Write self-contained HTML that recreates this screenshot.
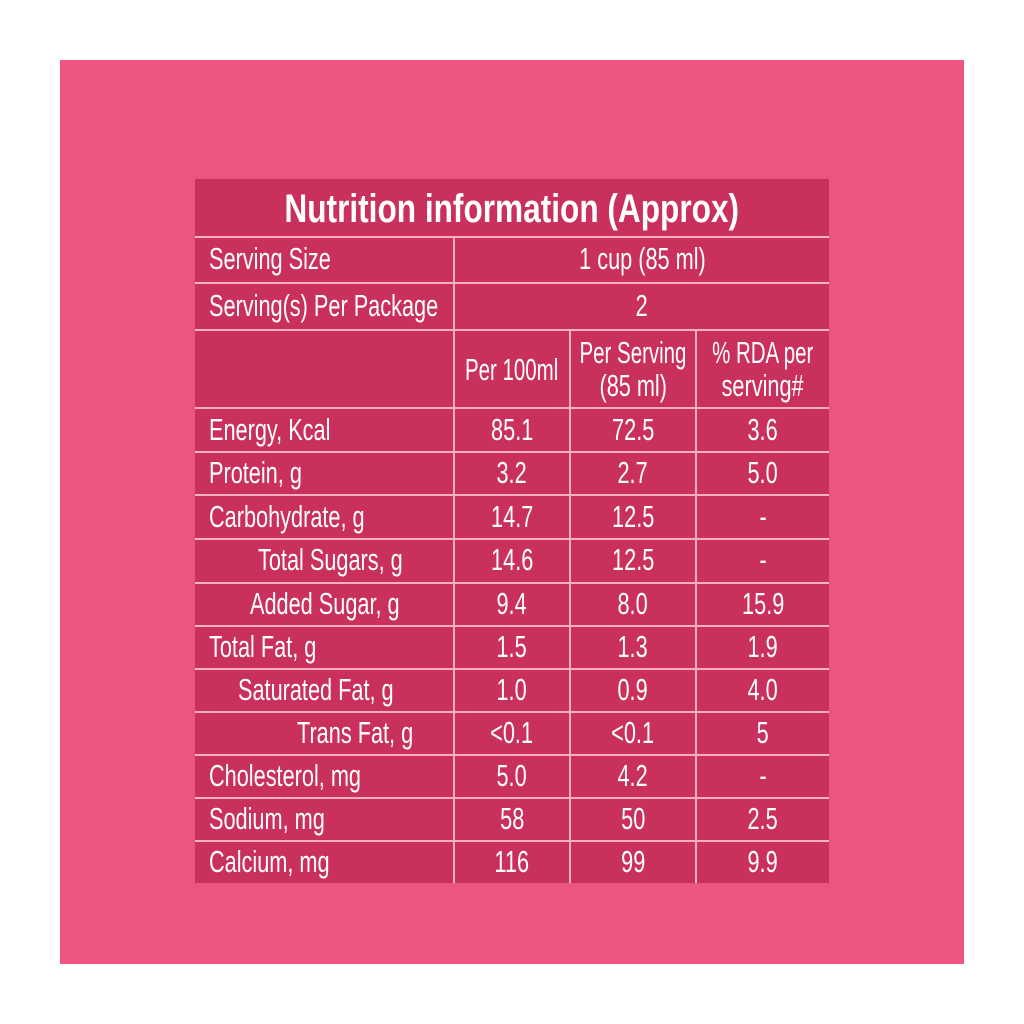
<!DOCTYPE html><html><head><style>
body{margin:0;width:1024px;height:1024px;background:#fff;position:relative;overflow:hidden;font-family:"Liberation Sans",sans-serif;}
#bg{position:absolute;left:60px;top:60px;width:904px;height:904px;background:#ee5480;}
#t{position:absolute;left:195px;top:179px;width:634px;height:704px;background:#c9305b;}
.h{position:absolute;height:2px;background:#f4b0c3;}
.v{position:absolute;width:2px;background:#f4b0c3;}
.c{position:absolute;color:#fff;font-size:31px;line-height:30px;white-space:nowrap;}
.c span{display:inline-block;transform:scaleX(0.7);}
.l span{transform-origin:left center;}
.m{text-align:center;}
.m span{transform-origin:center center;margin:0 -80px;}
</style></head><body>
<div id="bg"></div>
<div id="t"></div>
<div class="c m" style="left:195px;width:634px;top:188px;font-size:40px;line-height:42px;font-weight:bold"><span style="transform:scaleX(0.79)">Nutrition information (Approx)</span></div>
<div class="h" style="left:195px;width:634px;top:236px"></div>
<div class="h" style="left:195px;width:634px;top:282px"></div>
<div class="h" style="left:195px;width:634px;top:329px"></div>
<div class="h" style="left:195px;width:634px;top:407px"></div>
<div class="h" style="left:195px;width:634px;top:451px"></div>
<div class="h" style="left:195px;width:634px;top:494px"></div>
<div class="h" style="left:195px;width:634px;top:538px"></div>
<div class="h" style="left:195px;width:634px;top:582px"></div>
<div class="h" style="left:195px;width:634px;top:625px"></div>
<div class="h" style="left:195px;width:634px;top:668px"></div>
<div class="h" style="left:195px;width:634px;top:711px"></div>
<div class="h" style="left:195px;width:634px;top:754px"></div>
<div class="h" style="left:195px;width:634px;top:797px"></div>
<div class="h" style="left:195px;width:634px;top:840px"></div>
<div class="v" style="left:453px;top:236px;height:647px"></div>
<div class="v" style="left:569px;top:329px;height:554px"></div>
<div class="v" style="left:695px;top:329px;height:554px"></div>

<div class="c l" style="left:209px;top:244px"><span>Serving Size</span></div>
<div class="c m" style="left:455px;width:374px;top:244px"><span>1 cup (85 ml)</span></div>
<div class="c l" style="left:209px;top:291px"><span>Serving(s) Per Package</span></div>
<div class="c m" style="left:455px;width:374px;top:291px"><span>2</span></div>
<div class="c m" style="left:455px;width:114px;top:355px"><span style="transform:scaleX(0.66)">Per 100ml</span></div>
<div class="c m" style="left:571px;width:124px;top:338px"><span style="transform:scaleX(0.66)">Per Serving</span></div>
<div class="c m" style="left:571px;width:124px;top:371px"><span>(85 ml)</span></div>
<div class="c m" style="left:697px;width:132px;top:338px"><span style="transform:scaleX(0.66)">% RDA per</span></div>
<div class="c m" style="left:697px;width:132px;top:371px"><span>serving#</span></div>

<div class="c l" style="left:209px;top:415px"><span>Energy, Kcal</span></div>
<div class="c l" style="left:209px;top:458px"><span>Protein, g</span></div>
<div class="c l" style="left:209px;top:502px"><span>Carbohydrate, g</span></div>
<div class="c l" style="left:258px;top:545px"><span>Total Sugars, g</span></div>
<div class="c l" style="left:250px;top:589px"><span>Added Sugar, g</span></div>
<div class="c l" style="left:209px;top:632px"><span>Total Fat, g</span></div>
<div class="c l" style="left:238px;top:675px"><span>Saturated Fat, g</span></div>
<div class="c l" style="left:297px;top:718px"><span>Trans Fat, g</span></div>
<div class="c l" style="left:209px;top:761px"><span>Cholesterol, mg</span></div>
<div class="c l" style="left:209px;top:804px"><span>Sodium, mg</span></div>
<div class="c l" style="left:209px;top:847px"><span>Calcium, mg</span></div>

<div class="c m" style="left:455px;width:114px;top:415px"><span>85.1</span></div>
<div class="c m" style="left:455px;width:114px;top:458px"><span>3.2</span></div>
<div class="c m" style="left:455px;width:114px;top:502px"><span>14.7</span></div>
<div class="c m" style="left:455px;width:114px;top:545px"><span>14.6</span></div>
<div class="c m" style="left:455px;width:114px;top:589px"><span>9.4</span></div>
<div class="c m" style="left:455px;width:114px;top:632px"><span>1.5</span></div>
<div class="c m" style="left:455px;width:114px;top:675px"><span>1.0</span></div>
<div class="c m" style="left:455px;width:114px;top:718px"><span>&lt;0.1</span></div>
<div class="c m" style="left:455px;width:114px;top:761px"><span>5.0</span></div>
<div class="c m" style="left:455px;width:114px;top:804px"><span>58</span></div>
<div class="c m" style="left:455px;width:114px;top:847px"><span>116</span></div>

<div class="c m" style="left:571px;width:124px;top:415px"><span>72.5</span></div>
<div class="c m" style="left:571px;width:124px;top:458px"><span>2.7</span></div>
<div class="c m" style="left:571px;width:124px;top:502px"><span>12.5</span></div>
<div class="c m" style="left:571px;width:124px;top:545px"><span>12.5</span></div>
<div class="c m" style="left:571px;width:124px;top:589px"><span>8.0</span></div>
<div class="c m" style="left:571px;width:124px;top:632px"><span>1.3</span></div>
<div class="c m" style="left:571px;width:124px;top:675px"><span>0.9</span></div>
<div class="c m" style="left:571px;width:124px;top:718px"><span>&lt;0.1</span></div>
<div class="c m" style="left:571px;width:124px;top:761px"><span>4.2</span></div>
<div class="c m" style="left:571px;width:124px;top:804px"><span>50</span></div>
<div class="c m" style="left:571px;width:124px;top:847px"><span>99</span></div>

<div class="c m" style="left:697px;width:132px;top:415px"><span>3.6</span></div>
<div class="c m" style="left:697px;width:132px;top:458px"><span>5.0</span></div>
<div class="c m" style="left:697px;width:132px;top:502px"><span>-</span></div>
<div class="c m" style="left:697px;width:132px;top:545px"><span>-</span></div>
<div class="c m" style="left:697px;width:132px;top:589px"><span>15.9</span></div>
<div class="c m" style="left:697px;width:132px;top:632px"><span>1.9</span></div>
<div class="c m" style="left:697px;width:132px;top:675px"><span>4.0</span></div>
<div class="c m" style="left:697px;width:132px;top:718px"><span>5</span></div>
<div class="c m" style="left:697px;width:132px;top:761px"><span>-</span></div>
<div class="c m" style="left:697px;width:132px;top:804px"><span>2.5</span></div>
<div class="c m" style="left:697px;width:132px;top:847px"><span>9.9</span></div>
</body></html>
